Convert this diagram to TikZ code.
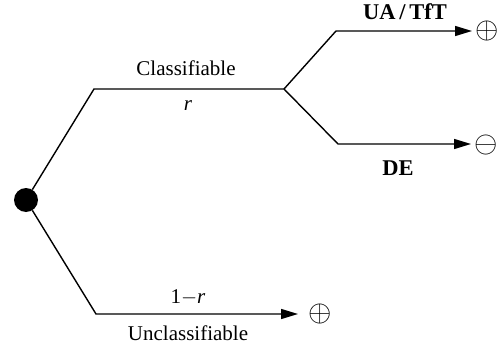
\documentclass[tikz,border=0pt]{standalone}
\usepackage{graphicx}
\usepackage{fontspec}
\setmainfont{Liberation Serif}
\usetikzlibrary{arrows.meta}
\newcommand{\bigsym}[1]{\scalebox{3.0}{$#1$}}
\begin{document}
\begin{tikzpicture}[x=1pt,y=-1pt,
  branch/.style={line width=1.4pt},
  arr/.style={branch,-{Triangle[length=17pt,width=10pt]}},
  lbl/.style={font=\fontsize{21}{24}\selectfont,inner sep=0pt},
  blbl/.style={font=\fontsize{22.5}{26}\selectfont\bfseries,inner sep=0pt},
  sym/.style={inner sep=0pt}]
\useasboundingbox (0,0) rectangle (498,350);
\node[circle,fill=black,minimum size=24pt,inner sep=0pt] (root) at (26,200) {};
\coordinate (c1) at (94,89);
\coordinate (c2) at (284,89);
\coordinate (u1) at (336,31);
\coordinate (u2) at (472,31);
\coordinate (d1) at (338,144);
\coordinate (d2) at (471,144);
\coordinate (l1) at (96,314);
\coordinate (l2) at (298,314);
\draw[branch] (root) -- (c1) -- (c2);
\draw[arr] (c2) -- (u1) -- (u2);
\draw[arr] (c2) -- (d1) -- (d2);
\draw[arr] (root) -- (l1) -- (l2);
\node[sym] (pu) at (487,31) {\bigsym{\oplus}};
\node[sym] (pd) at (486,145) {\bigsym{\ominus}};
\node[sym] (pl) at (320,314) {\bigsym{\oplus}};
\node[lbl] (cls) at (186,68) {Classifiable};
\node[lbl] (r) at (188,106) {\textit{r}};
\node[blbl] (ua) at (405,12) {UA\,/\,TfT};
\node[blbl] (de) at (398,168) {DE};
\node[lbl] (omr) at (188,297) {1$-$\textit{r}};
\node[lbl] (uncl) at (188,333) {Unclassifiable};
\end{tikzpicture}
\end{document}
